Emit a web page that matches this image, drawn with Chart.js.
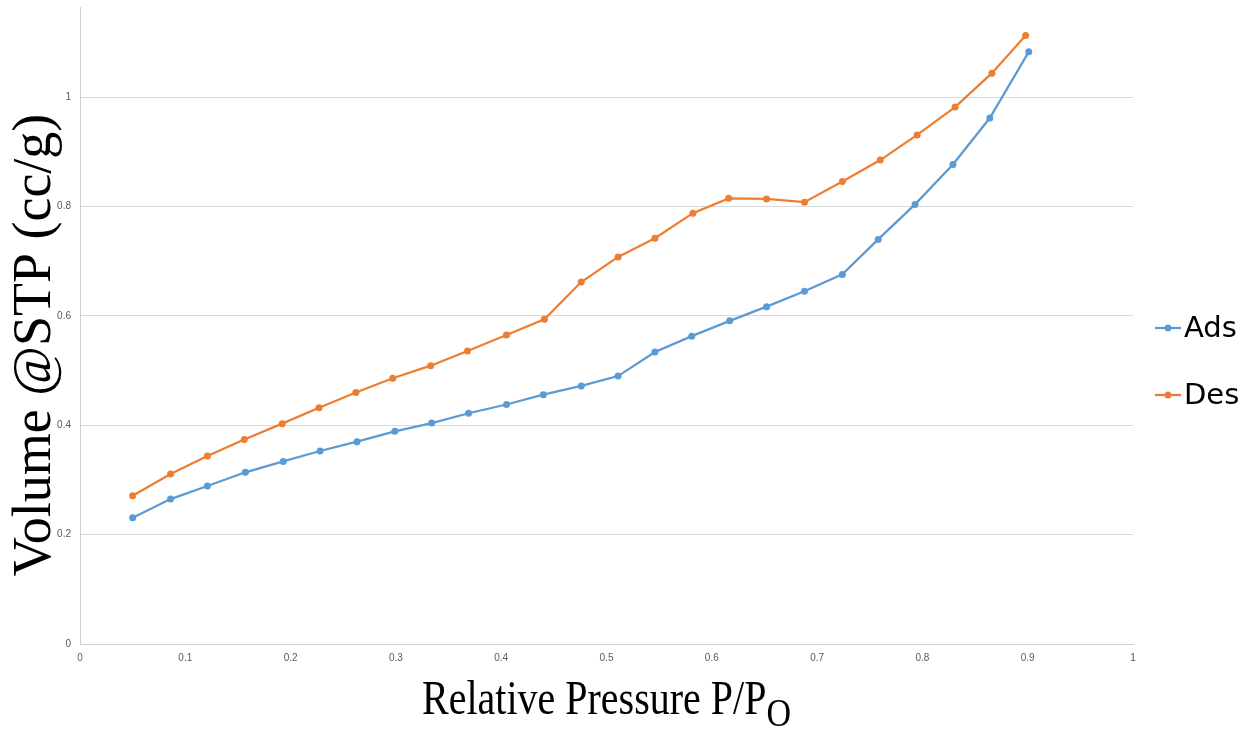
<!DOCTYPE html>
<html>
<head>
<meta charset="utf-8">
<script src="https://cdn.jsdelivr.net/npm/chart.js@4/dist/chart.umd.min.js"></script>
<style>
  body { margin: 0; background: #fff; }
  #wrap { width: 1257px; height: 729px; }
</style>
</head>
<body>
<div id="wrap"><canvas id="myChart"></canvas></div>
<script>
// relative pressure P/Po
const adsX = [0.050, 0.086, 0.121, 0.157, 0.193, 0.228, 0.263, 0.299, 0.334, 0.369, 0.405, 0.440, 0.476,
              0.511, 0.546, 0.581, 0.617, 0.652, 0.688, 0.724, 0.758, 0.793, 0.829, 0.864, 0.901];
const adsY = [0.231, 0.265, 0.289, 0.314, 0.334, 0.353, 0.370, 0.389, 0.404, 0.422, 0.438, 0.456, 0.472,
              0.490, 0.534, 0.563, 0.591, 0.617, 0.645, 0.676, 0.740, 0.804, 0.877, 0.962, 1.083];
const desX = [0.050, 0.086, 0.121, 0.156, 0.192, 0.227, 0.262, 0.297, 0.333, 0.368, 0.405, 0.441, 0.476,
              0.511, 0.546, 0.582, 0.616, 0.652, 0.688, 0.724, 0.760, 0.795, 0.831, 0.866, 0.898];
const desY = [0.271, 0.311, 0.344, 0.374, 0.403, 0.432, 0.460, 0.486, 0.509, 0.536, 0.565, 0.594, 0.662,
              0.708, 0.742, 0.788, 0.815, 0.814, 0.808, 0.846, 0.885, 0.931, 0.982, 1.044, 1.113];

const seriesNames = ["Ads", "Des"];
const seriesColors = ["#5b9bd5", "#ed7d31"];
const xTitle = "Relative Pressure P/P";
const xTitleSub = "O";
const yTitle = "Volume @STP (cc/g)";

function toPoints(xs, ys) {
  return xs.map((x, i) => ({ x: x, y: ys[i] }));
}

// axis titles + legend drawn by hand (subscript, excel style line-dot legend)
const extrasPlugin = {
  id: "extras",
  afterDraw(chart) {
    const ctx = chart.ctx;
    const area = chart.chartArea;
    const serif = "'Liberation Serif', 'Times New Roman', serif";
    ctx.save();
    ctx.fillStyle = "#000";
    ctx.textBaseline = "alphabetic";
    ctx.textAlign = "left";
    ctx.font = "40px " + serif;
    const w1 = ctx.measureText(xTitle).width;
    ctx.font = "34px " + serif;
    const w2 = ctx.measureText(xTitleSub).width;
    const startX = (area.left + area.right) / 2 - (w1 + w2) / 2;
    ctx.save();
    ctx.translate(startX, 714);
    ctx.scale(1, 1.2);
    ctx.font = "40px " + serif;
    ctx.fillText(xTitle, 0, 0);
    ctx.restore();
    ctx.save();
    ctx.translate(startX + w1, 726);
    ctx.scale(1, 1.2);
    ctx.font = "34px " + serif;
    ctx.fillText(xTitleSub, 0, 0);
    ctx.restore();

    ctx.save();
    ctx.translate(50, 345);
    ctx.rotate(-Math.PI / 2);
    ctx.textAlign = "center";
    ctx.font = "54px " + serif;
    ctx.fillText(yTitle, 0, 0);
    ctx.restore();

    // legend
    ctx.textBaseline = "middle";
    ctx.textAlign = "left";
    ctx.font = "29px 'DejaVu Sans', sans-serif";
    chart.data.datasets.forEach((ds, i) => {
      const y = 328 + i * 67;
      ctx.strokeStyle = ds.borderColor;
      ctx.lineWidth = 2.25;
      ctx.beginPath();
      ctx.moveTo(1155, y);
      ctx.lineTo(1181, y);
      ctx.stroke();
      ctx.fillStyle = ds.borderColor;
      ctx.beginPath();
      ctx.arc(1168, y, 3.5, 0, Math.PI * 2);
      ctx.fill();
      ctx.fillStyle = "#000";
      ctx.fillText(ds.label, 1184, y + 1);
    });
    ctx.restore();
  }
};

const data = {
  datasets: [
    {
      label: seriesNames[0],
      data: toPoints(adsX, adsY),
      borderColor: seriesColors[0],
      backgroundColor: seriesColors[0],
      showLine: true,
      borderWidth: 2.25,
      pointRadius: 3.5,
      pointBorderWidth: 0
    },
    {
      label: seriesNames[1],
      data: toPoints(desX, desY),
      borderColor: seriesColors[1],
      backgroundColor: seriesColors[1],
      showLine: true,
      borderWidth: 2.25,
      pointRadius: 3.5,
      pointBorderWidth: 0
    }
  ]
};

const tickFont = { family: "'Liberation Sans', Arial, sans-serif", size: 10 };

const config = {
  type: "scatter",
  data: data,
  plugins: [extrasPlugin],
  options: {
    responsive: true,
    maintainAspectRatio: false,
    animation: false,
    layout: { padding: { top: 7, left: 0, right: 124, bottom: 0 } },
    plugins: {
      tooltip: { enabled: false },
      legend: { display: false }
    },
    scales: {
      x: {
        type: "linear",
        min: 0,
        max: 1,
        ticks: {
          stepSize: 0.1,
          padding: 8,
          color: "#595959",
          font: tickFont,
          maxRotation: 0,
          callback: v => String(+v.toFixed(1))
        },
        grid: { display: false, drawTicks: false },
        border: { display: true, color: "#d0d0d0", width: 1 },
        afterFit: scale => {
          scale.height = 85;
          scale.paddingLeft = 0;
          scale.paddingRight = 0;
        }
      },
      y: {
        min: 0,
        max: 1.165,
        ticks: {
          stepSize: 0.2,
          padding: 9,
          color: "#595959",
          font: tickFont,
          callback: v => String(+v.toFixed(1))
        },
        afterBuildTicks: scale => {
          scale.ticks = scale.ticks.filter(t => Math.abs(t.value * 5 - Math.round(t.value * 5)) < 1e-6);
        },
        grid: { color: "#d9d9d9", drawTicks: false, lineWidth: 1 },
        border: { display: true, color: "#d0d0d0", width: 1 },
        afterFit: scale => {
          scale.width = 80;
          scale.paddingTop = 0;
          scale.paddingBottom = 0;
        }
      }
    }
  }
};

const myChart = new Chart(document.getElementById("myChart"), config);
</script>
</body>
</html>
